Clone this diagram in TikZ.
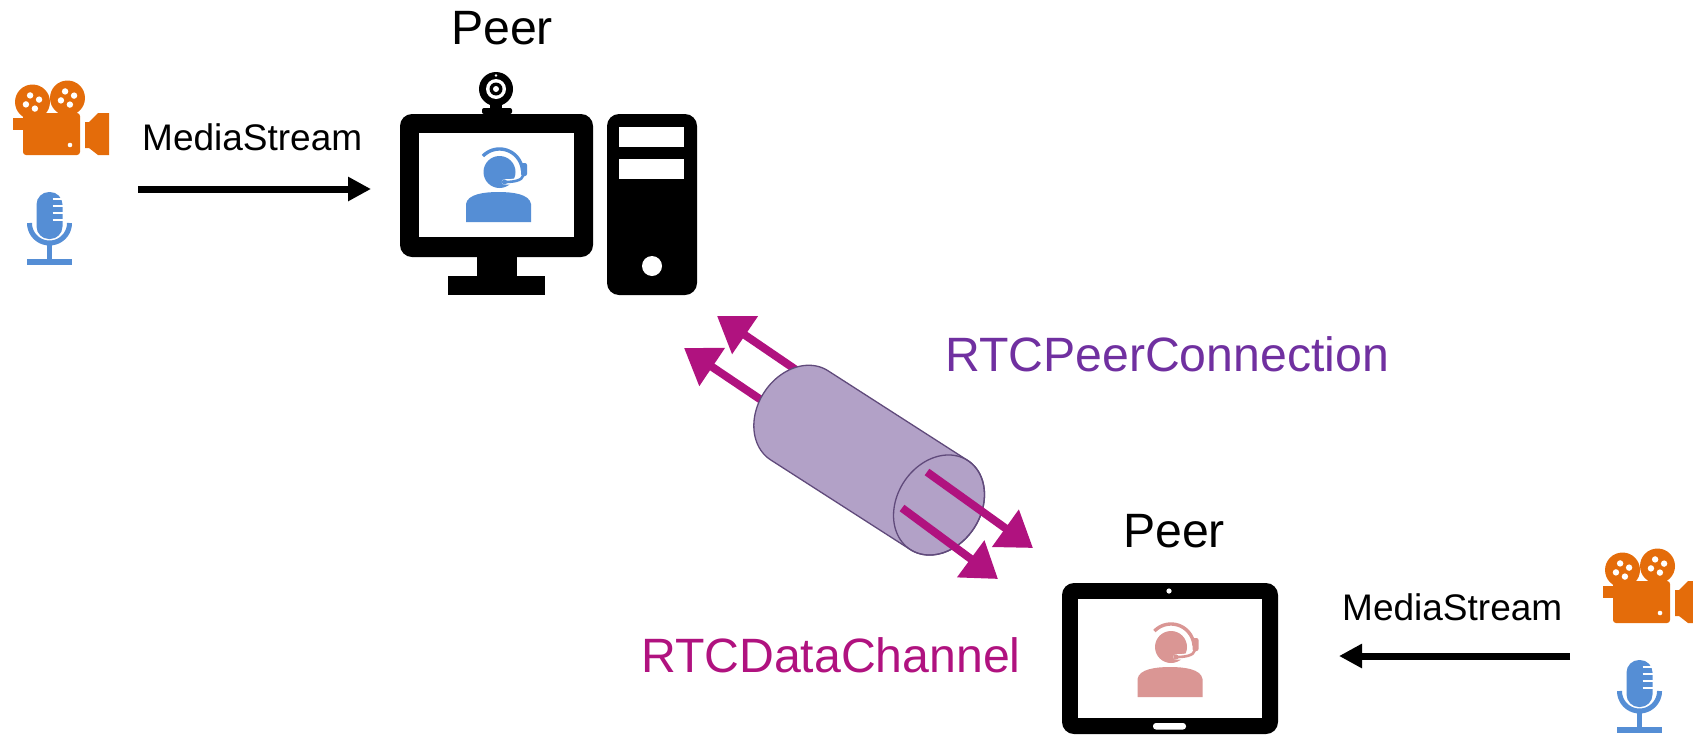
\documentclass[tikz,border=0pt]{standalone}
\usepackage{fontspec}
\setmainfont{Liberation Sans}
\usetikzlibrary{arrows.meta}

\definecolor{rtcmagenta}{HTML}{B0127F}
\definecolor{rtcpurple}{HTML}{7030A0}
\definecolor{tubefill}{HTML}{B2A1C7}
\definecolor{tubeedge}{HTML}{604A7B}
\definecolor{iconblue}{HTML}{558ED5}
\definecolor{iconpink}{HTML}{DA9694}
\definecolor{iconorange}{HTML}{E46C0A}

% rim of the tube: ellipse around a centre, axis tilted 32.7 degrees downwards
\newcommand{\rimx}[1]{{#1+35.34*cos(\x)+28.63*sin(\x)}}
\newcommand{\rimy}[1]{{#1+22.69*cos(\x)-44.60*sin(\x)}}

\tikzset{
  big/.style={inner sep=0pt, anchor=base west, font=\fontsize{48.2}{52}\selectfont},
  small/.style={inner sep=0pt, anchor=base west, font=\fontsize{37}{40}\selectfont},
  streamarrow/.style={line width=7pt, -{Triangle[length=23pt, width=23pt]}},
  channelarrow/.style={rtcmagenta, line width=8pt, -{Triangle[length=34pt, width=44pt]}},
  % support agent with headset; origin = bottom centre of the shoulders
  pics/agent/.style={code={
    \fill[#1] (-32.5,0) -- (-32.5,-18) .. controls (-31,-28) and (-14,-30) .. (0,-30)
      .. controls (14,-30) and (31,-28) .. (32.5,-18) -- (32.5,0) -- cycle;
    \fill[#1] (1,-50) circle[radius=16pt];
    \draw[#1, line width=3.4pt] plot[domain=4:136, samples=40] ({1+23*cos(\x)}, {-50-23*sin(\x)});
    \draw[white, line width=5.5pt, line cap=round] (25,-47) .. controls (24,-41) and (14,-40) .. (6,-40);
    \draw[#1, line width=2.6pt, line cap=round] (25,-47) .. controls (24,-41) and (14,-40) .. (6,-40);
    \fill[#1] (6,-40) circle[radius=2.6pt];
    \fill[#1, rounded corners=2pt] (22.5,-59) rectangle (28.5,-46);
  }},
  % film camera; origin = top left of its box
  pics/filmcam/.style={code={
    \fill[iconorange, rounded corners=3pt] (23,113) rectangle (80,155);
    \fill[iconorange] (13,118) rectangle (24,130);
    \fill[iconorange] (85,122) -- (89,122) -- (98,113) -- (109,113) -- (109,155)
      -- (98,155) -- (89,148) -- (85,148) -- cycle;
    \fill[iconorange] (32.5,102) circle[radius=17.5pt];
    \fill[iconorange] (67.5,98) circle[radius=17.5pt];
    \foreach \cx/\cy in {32.5/102, 67.5/98}{
      \foreach \a in {20,110,200,290}
        \fill[white] ({\cx+7*cos(\a)}, {\cy-7*sin(\a)}) circle[radius=3.2pt];
    }
    \fill[white] (70,145) circle[radius=2.3pt];
  }},
  % microphone on a stand
  pics/mic/.style={code={
    \fill[iconblue, rounded corners=12.5pt] (36.5,192) rectangle (62.5,239);
    \foreach \gy in {199,206,213,220}
      \draw[white, line width=2pt] (52.5,\gy) -- (63,\gy);
    \draw[iconblue, line width=5pt] plot[domain=180:360, samples=40] ({49.5+20*cos(\x)}, {223-20*sin(\x)});
    \draw[iconblue, line width=5pt] (49.5,243) -- (49.5,260);
    \fill[iconblue] (27,259) rectangle (72,264.5);
  }}
}

\begin{document}
\begin{tikzpicture}[x=1pt, y=-1pt]
\useasboundingbox (0,0) rectangle (1693,734);
\clip (0,0) rectangle (1693,734);

% ---- media sources ----
\pic at (0,0) {filmcam};
\pic at (0,0) {mic};
\pic at (1590,468) {filmcam};
\pic at (1590,468) {mic};

% ---- desktop computer ----
\fill[black, rounded corners=12pt] (400,114) rectangle (593,257);
\fill[white] (419,133) rectangle (574,237);
\fill[black] (477,256) rectangle (517,277);
\fill[black] (448,276) rectangle (545,295);
% webcam
\fill[black, rounded corners=2pt] (482,108) rectangle (512,114);
\fill[black] (490,100) rectangle (502,109);
\fill[black] (496,89) circle[radius=17pt];
\fill[white] (496,89) circle[radius=10pt];
\fill[black] (496,89) circle[radius=6.5pt];
\fill[white] (496,89) circle[radius=3pt];
\fill[white] (496,75.5) circle[radius=1.4pt];
% tower
\fill[black, rounded corners=12pt] (607,114) rectangle (697,295);
\fill[white] (619,127) rectangle (684,147);
\fill[white] (619,159) rectangle (684,179);
\fill[white] (652,266) circle[radius=10pt];
\pic at (498.5,222) {agent=iconblue};

% ---- tablet ----
\fill[black, rounded corners=12pt] (1062,583) rectangle (1278,734);
\fill[white] (1078,599) rectangle (1262,718);
\fill[white] (1169,591) circle[radius=2.6pt];
\fill[white, rounded corners=3pt] (1153,723) rectangle (1186,729.5);
\pic at (1170,697) {agent=iconpink};

% ---- labels ----
\node[big] (peertop) at (451,44) {Peer};
\node[big] (peerbot) at (1123,547) {Peer};
\node[big, text=rtcpurple] (pclabel) at (945,371) {RTCPeerConnection};
\node[big, text=rtcmagenta] (dclabel) at (641,672) {RTCDataChannel};
\node[small] (msleft) at (142,150) {MediaStream};
\node[small] (msright) at (1342,620) {MediaStream};

% ---- MediaStream arrows ----
\coordinate (msAfrom) at (138,189);
\coordinate (msAto) at (371,189);
\coordinate (msBfrom) at (1570,656);
\coordinate (msBto) at (1339,656);
\draw[streamarrow] (msAfrom) -- (msAto);
\draw[streamarrow] (msBfrom) -- (msBto);

% ---- channel arrows leaving the back of the tube ----
\coordinate (chAfrom) at (805,376);
\coordinate (chAto) at (717,316);
\coordinate (chBfrom) at (785,416);
\coordinate (chBto) at (684,348);
\draw[channelarrow] (chAfrom) -- (chAto);
\draw[channelarrow] (chBfrom) -- (chBto);

% ---- the connection tube (back centre 799.3/415.3, front centre 939/505) ----
\filldraw[fill=tubefill, draw=tubeedge, line width=1.3pt]
  plot[domain=90:-90, samples=60] (\rimx{939}, \rimy{505})
  -- plot[domain=270:90, samples=60] (\rimx{799.3}, \rimy{415.3})
  -- cycle;
\draw[tubeedge, line width=1.3pt]
  plot[domain=0:360, samples=100] (\rimx{939}, \rimy{505}) -- cycle;

% ---- channel arrows coming out of the front of the tube ----
\coordinate (chCfrom) at (927,472);
\coordinate (chCto) at (1033,548);
\coordinate (chDfrom) at (902,508);
\coordinate (chDto) at (998,579);
\draw[channelarrow] (chCfrom) -- (chCto);
\draw[channelarrow] (chDfrom) -- (chDto);
\end{tikzpicture}
\end{document}
